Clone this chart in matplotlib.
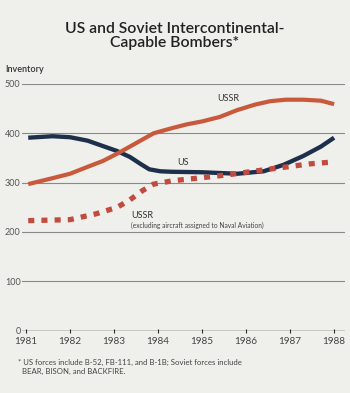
import matplotlib.pyplot as plt

# readings taken off the original chart
us_x = [1981.05, 1981.6, 1982.0, 1982.4, 1982.75, 1983.07, 1983.36, 1983.6, 1983.8,
        1984.05, 1984.3, 1985.0, 1985.8, 1986.4, 1986.85, 1987.3, 1987.7, 1988.0]
us_val = [391, 394, 392, 385, 374, 364, 352, 338, 327, 323, 322, 321, 318, 323, 336, 354, 373, 391]

ussr_x = [1981.05, 1981.6, 1982.0, 1982.4, 1982.75, 1983.1, 1983.5, 1983.9, 1984.3, 1984.65,
          1985.0, 1985.4, 1985.8, 1986.2, 1986.55, 1986.9, 1987.3, 1987.7, 1988.0]
ussr_val = [297, 309, 318, 332, 344, 360, 380, 400, 410, 418, 424, 433, 447, 458, 465, 468, 468, 466, 459]

naval_x = [1981.05, 1982.0, 1982.6, 1983.07, 1983.36, 1983.65, 1983.9, 1984.35, 1985.0,
           1985.6, 1986.25, 1986.85, 1987.45, 1988.0]
naval_val = [223, 225, 237, 250, 265, 284, 297, 304, 310, 316, 324, 331, 338, 342]

years = [1981, 1982, 1983, 1984, 1985, 1986, 1987, 1988]
yticks = [0, 100, 200, 300, 400, 500]

bg = '#efefeb'
navy = '#1d2f4b'
orange = '#c9593b'
red = '#c24b40'

plt.rcParams['font.family'] = ['Lato', 'DejaVu Sans']

fig = plt.figure(figsize=(3.5, 3.93), dpi=100, facecolor=bg)
ax = fig.add_axes([0.063, 0.1585, 0.923, 0.628], facecolor=bg)

ax.plot(us_x, us_val, color=navy, lw=3.1, solid_capstyle='butt', clip_on=False, zorder=3)
ax.plot(ussr_x, ussr_val, color=orange, lw=3.0, solid_capstyle='butt', clip_on=False, zorder=4)
ax.plot(naval_x, naval_val, color=red, lw=3.8, linestyle=(0, (1.15, 1.35)),
        dash_capstyle='butt', clip_on=False, zorder=5)

ax.set_xlim(1980.91, 1988.25)
ax.set_ylim(0, 500)
for v in yticks[1:]:
    ax.axhline(v, color='#8a8a8a', lw=0.8, zorder=1)
ax.axhline(0, color='#2a2a2a', lw=1.0, zorder=2)

for s in ax.spines.values():
    s.set_visible(False)
ax.set_yticks(yticks)
ax.set_yticklabels([str(v) for v in yticks], fontsize=6.5, color='#555555')
ax.tick_params(axis='y', length=0, pad=1)
ax.set_xticks(years)
ax.set_xticklabels([str(y) for y in years], fontsize=7.2, color='#444444')
ax.tick_params(axis='x', length=3, direction='inout', width=0.8, color='#2a2a2a', pad=3)

ax.text(1985.6, 470, 'USSR', fontsize=6.5, color='#333333', ha='center', va='center')
ax.text(1984.57, 341, 'US', fontsize=6.5, color='#333333', ha='center', va='center')
ax.text(1983.39, 233, 'USSR', fontsize=6.5, color='#333333', ha='left', va='center')
ax.text(1983.39, 213, '(excluding aircraft assigned to Naval Aviation)', fontsize=4.8,
        color='#444444', ha='left', va='center')

fig.text(0.5, 0.908, 'US and Soviet Intercontinental-\nCapable Bombers*', ha='center',
         va='center', fontsize=11.3, fontweight='semibold', color='#222222', linespacing=1.05)
fig.text(0.014, 0.822, 'Inventory', fontsize=6.5, fontweight='semibold', color='#333333',
         ha='left', va='center')
fig.text(0.05, 0.066, '* US forces include B-52, FB-111, and B-1B; Soviet forces include\n'
         '  BEAR, BISON, and BACKFIRE.', fontsize=5.6, color='#444444', ha='left',
         va='center', linespacing=1.3)

fig.savefig('out.png', dpi=100, facecolor=bg)
